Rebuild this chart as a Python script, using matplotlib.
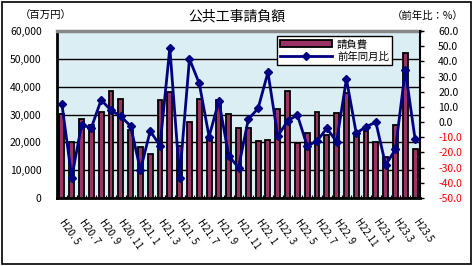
import numpy as np
import matplotlib
matplotlib.use("Agg")
import matplotlib.pyplot as plt
from matplotlib.patches import Rectangle

plt.rcParams["font.family"] = ["Noto Sans CJK JP", "DejaVu Sans"]

# 月別 (H20.5 - H23.5)
months = ["H20. 5", "H20. 6", "H20. 7", "H20. 8", "H20. 9", "H20.10", "H20. 11", "H20.12",
          "H21. 1", "H21. 2", "H21. 3", "H21. 4", "H21. 5", "H21. 6", "H21. 7", "H21. 8",
          "H21. 9", "H21.10", "H21. 11", "H21.12", "H22. 1", "H22. 2", "H22. 3", "H22. 4",
          "H22. 5", "H22. 6", "H22. 7", "H22. 8", "H22. 9", "H22.10", "H22.11", "H22.12",
          "H23.1", "H23.2", "H23.3", "H23.4", "H23.5"]
# 請負費 (百万円)
ukeoi = [30100, 20000, 28300, 26300, 30800, 38400, 35500, 24400, 18500, 15700,
         35300, 38200, 18800, 27400, 35400, 22000, 35300, 30100, 25100, 25100,
         20300, 20700, 31900, 38600, 19900, 23300, 30800, 22700, 30500, 37700,
         23300, 24100, 20000, 14900, 26300, 52000, 17500]
# 前年同月比 (%)
zennen = [11.9, -36.6, -1.9, -3.7, 14.6, 7.8, 3.8, -2.6, -31.6, -5.9,
          -15.5, 49.0, -36.6, 41.6, 25.5, -9.6, 13.9, -22.1, -30.0, 1.8,
          9.1, 32.8, -9.2, 0.7, 4.7, -15.7, -12.5, -4.1, -12.9, 28.4,
          -7.4, -3.0, -0.1, -28.3, -17.9, 34.3, -11.3]

BAR = "#993366"
LINE = "#000080"

fig = plt.figure(figsize=(4.73, 2.66), dpi=100)
fig.patches.append(Rectangle((2 / 473, 2 / 266), 469 / 473, 262 / 266, transform=fig.transFigure,
                             fill=False, ec="black", lw=1.2))

ax = fig.add_axes([57 / 473, 68 / 266, 363 / 473, 167 / 266])
ax.set_facecolor("#dbeef4")
x = np.arange(len(months))
ax.bar(x, ukeoi, width=0.5, color=BAR, edgecolor="black", lw=1.3, zorder=2, label="請負費")
ax.set_xlim(-0.5, len(months) - 0.5)
ax.set_ylim(0, 60000)
ax.set_yticks(np.arange(0, 60001, 10000))
ax.set_yticklabels([f"{v:,}" for v in range(0, 60001, 10000)], fontsize=7.5)
ax.yaxis.grid(True, color="black", lw=1)
ax.set_axisbelow(True)
ax.tick_params(axis="y", length=0, pad=11)
ax.set_xticks(x[::2])
ax.set_xticklabels(months[::2], rotation=-55, ha="left", va="center", rotation_mode="anchor",
                   fontsize=7)
ax.set_xticks(np.arange(-0.5, len(months)), minor=True)
ax.tick_params(axis="x", which="major", length=0, pad=16)
ax.tick_params(axis="x", which="minor", length=2.5, direction="in", width=0.8)
for s in ["left", "bottom"]:
    ax.spines[s].set_linewidth(2)
    ax.spines[s].set_color("black")
ax.spines["top"].set_linewidth(2.5)
ax.spines["top"].set_color("#888888")
ax.spines["right"].set_visible(False)

ax2 = ax.twinx()
ax2.plot(x, zennen, "-D", color=LINE, lw=2, ms=4, mec=LINE, label="前年同月比", zorder=3)
ax2.set_ylim(-50, 60)
ax2.set_yticks(np.arange(-50, 61, 10))
ax2.set_yticklabels([f"{v:.1f}" for v in range(-50, 61, 10)], fontsize=7.5)
for lab, v in zip(ax2.get_yticklabels(), range(-50, 61, 10)):
    if v < 0:
        lab.set_color("red")
ax2.tick_params(axis="y", length=3, width=1, pad=10)
ax2.spines["right"].set_linewidth(1.5)
ax2.spines["right"].set_color("black")
for s in ["left", "bottom", "top"]:
    ax2.spines[s].set_visible(False)

h1, l1 = ax.get_legend_handles_labels()
h2, l2 = ax2.get_legend_handles_labels()
leg = ax2.legend(h1 + h2, l1 + l2, loc="upper right", bbox_to_anchor=(0.923, 0.97),
                 fontsize=7.5, frameon=True, fancybox=False, edgecolor="black",
                 framealpha=1, borderpad=0.3, handlelength=5, handletextpad=0.5,
                 labelspacing=0.2, borderaxespad=0)
leg.get_frame().set_linewidth(1)

fig.text(237 / 473, 1 - 16 / 266, "公共工事請負額", ha="center", va="center", fontsize=10)
fig.text(20 / 473, 1 - 16 / 266, "（百万円）", ha="left", va="center", fontsize=7.5)
fig.text(464 / 473, 1 - 16 / 266, "（前年比：%）", ha="right", va="center", fontsize=7.5)

fig.savefig("out.png", dpi=100, facecolor="white")
